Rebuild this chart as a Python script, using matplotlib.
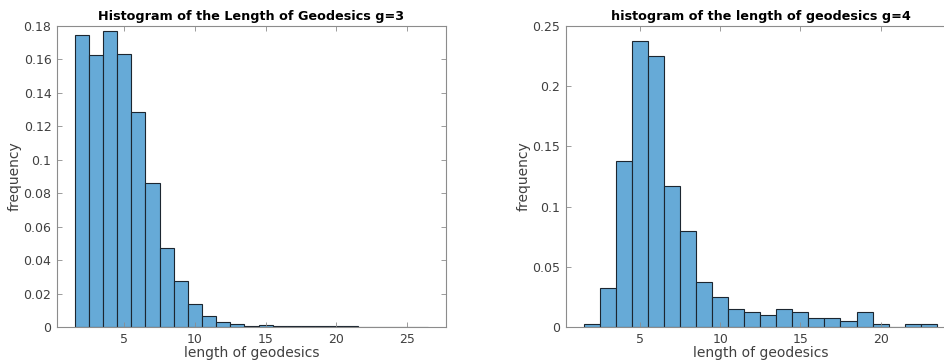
"""
Histograms of geodesic lengths for genus 3 and genus 4
"""

import matplotlib.pyplot as plt
from matplotlib.ticker import FormatStrFormatter

# bin centres (bins of width 1) and normalised frequencies
g3_centers = list(range(2, 27))
g3_freq = [0.1748, 0.1629, 0.1768, 0.1633, 0.1283, 0.0861, 0.0471, 0.0278,
           0.0137, 0.0068, 0.0028, 0.0018, 0.0006, 0.0012, 0.0008, 0.0006,
           0.0006, 0.0003, 0.0003, 0.0004, 0.0002, 0.0001, 0.0001, 0.0001,
           0.0001]

g4_centers = list(range(2, 24))
g4_freq = [0.0025, 0.0325, 0.1375, 0.2375, 0.225, 0.1175, 0.08, 0.0375,
           0.025, 0.015, 0.0125, 0.01, 0.015, 0.0125, 0.0075, 0.0075, 0.005,
           0.0125, 0.0025, 0.0, 0.0025, 0.0025]

g3_yticks = [0, 0.02, 0.04, 0.06, 0.08, 0.1, 0.12, 0.14, 0.16, 0.18]
g4_yticks = [0, 0.05, 0.1, 0.15, 0.2, 0.25]

face = "#66aad7"
edge = "#1c2630"
spine = "#8c8c8c"
txt = "#404040"

fig = plt.figure(figsize=(9.44, 3.64), dpi=100)
W, H = 944, 364


def setup(ax, title, xticks, yticks, xlim, ylim):
    ax.set_xlim(*xlim)
    ax.set_ylim(*ylim)
    ax.set_xticks(xticks)
    ax.set_yticks(yticks)
    ax.yaxis.set_major_formatter(FormatStrFormatter("%g"))
    ax.tick_params(direction="in", top=True, right=True, length=3.5,
                   width=0.6, color=spine, labelsize=9, labelcolor=txt, pad=4)
    for s in ax.spines.values():
        s.set_color(spine)
        s.set_linewidth(0.8)
    ax.set_title(title, fontsize=9.2, fontweight="bold", pad=4, color="black")
    ax.set_xlabel("length of geodesics", fontsize=10, color=txt, labelpad=0)
    ax.set_ylabel("frequency", fontsize=10, color=txt, labelpad=1)


# left panel
ax1 = fig.add_axes([57 / W, 37 / H, 389 / W, 301 / H])
ax1.bar(g3_centers, g3_freq, width=1.0, color=face, edgecolor=edge,
        linewidth=0.8)
setup(ax1, "Histogram of the Length of Geodesics g=3", [5, 10, 15, 20, 25],
      g3_yticks, (0.25, 27.75), (0, 0.18))

# right panel (runs off the right edge of the image, as in the original)
ax2 = fig.add_axes([566 / W, 37 / H, 389 / W, 301 / H])
ax2.bar(g4_centers, g4_freq, width=1.0, color=face, edgecolor=edge,
        linewidth=0.8)
setup(ax2, "histogram of the length of geodesics g=4", [5, 10, 15, 20],
      g4_yticks, (0.39, 24.64), (0, 0.25))

fig.savefig("out.png", dpi=100)
